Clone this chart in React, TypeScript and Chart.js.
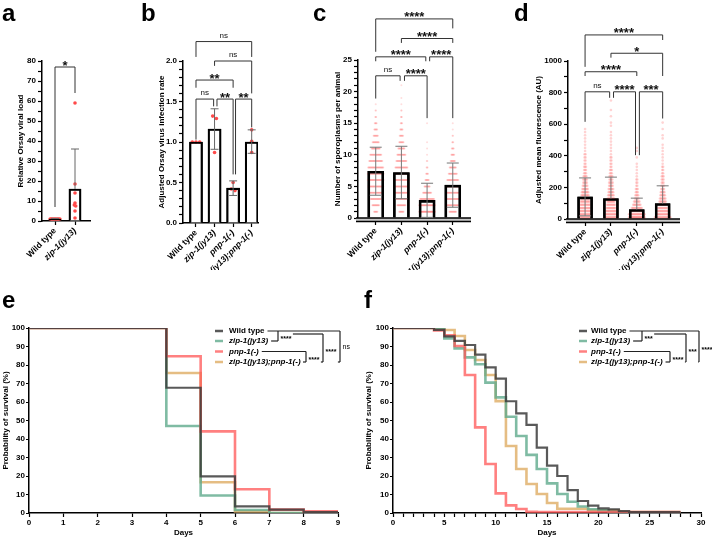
import React, { useEffect, useRef } from 'react';
import { Chart, registerables } from 'chart.js';
Chart.register(...registerables);

const FONT = '"Liberation Sans", Arial, Helvetica, sans-serif';

// ---------------- Panel a ----------------
const catsA = ['Wild type', 'zip-1(jy13)'];
const meanA = [1, 16];
const lowA = [1, 16];
const highA = [1.3, 36];
const dotsA = [
  [1, 1, 1, 1, 1, 1, 1, 1],
  [59, 18.5, 14, 9, 8, 7.5, 5, 1.5],
];

// ---------------- Panel b ----------------
const cats4 = ['Wild type', 'zip-1(jy13)', 'pnp-1(-)', 'zip-1(jy13);pnp-1(-)'];
const meanB = [1.0, 1.16, 0.43, 1.0];
const lowB = [1.0, 0.91, 0.34, 0.86];
const highB = [1.0, 1.41, 0.52, 1.15];
const dotsB = [
  [1, 1, 1],
  [1.32, 1.29, 0.87],
  [0.5, 0.42, 0.4],
  [1.15, 1.01, 0.87],
];

// ---------------- Panel c ----------------
// number of animals having 1, 2, 3 ... sporoplasms
const meanC = [7.4, 7.2, 2.8, 5.2];
const lowC = [3.6, 3.05, 0.1, 1.7];
const highC = [11.2, 11.35, 5.5, 8.7];
const countsC_wt = [8, 15, 22, 28, 32, 34, 34, 32, 28, 24, 18, 14, 10, 7, 5, 3, 2, 1];
const countsC_zip = [10, 18, 24, 28, 30, 30, 28, 26, 22, 18, 14, 10, 8, 6, 4, 3, 2, 1, 1, 0, 1];
const countsC_pnp = [45, 40, 30, 18, 12, 8, 5, 3, 2, 1, 1, 1, 0, 0, 1];
const countsC_dbl = [15, 25, 30, 30, 28, 24, 18, 14, 10, 7, 5, 3, 2, 1, 1];

// ---------------- Panel d ----------------
// number of animals per 20 AU fluorescence bin (0-20, 20-40, ...)
const meanD = [140, 130, 60, 98];
const lowD = [20, 130, 60, 98];
const highD = [260, 265, 132, 210];
const countsD_wt = [12, 14, 14, 13, 12, 11, 10, 9, 8, 7, 6, 5, 5, 4, 3, 3, 3, 2, 2, 2, 2, 1, 1, 1, 1, 1, 1, 1, 1];
const countsD_zip = [16, 14, 12, 11, 10, 9, 8, 7, 6, 6, 5, 5, 4, 4, 3, 3, 2, 2, 2, 2, 1, 1, 1, 1, 1, 1, 1, 1, 0, 1, 1, 0, 1, 0, 1, 0, 0, 1];
const countsD_pnp = [26, 20, 15, 12, 9, 7, 5, 4, 3, 3, 2, 2, 2, 1, 1, 1, 1, 1, 0, 1, 0, 1, 1];
const countsD_dbl = [18, 15, 13, 11, 9, 8, 7, 6, 5, 4, 4, 3, 3, 3, 2, 2, 2, 1, 1, 1, 1, 1, 1, 1, 0, 1, 1, 0, 1, 0, 1];

// ---------------- Panel e ----------------
const daysE = [0, 4, 5, 6, 7, 8, 9];
const survE_wt = [100, 67.7, 19.8, 3.6, 1.8, 0.5, 0.5];
const survE_zip = [100, 47, 9.5, 1.6, 0, 0, 0];
const survE_pnp = [100, 84.7, 44.1, 12.8, 1.8, 0.9, 0.9];
const survE_dbl = [100, 75.7, 16.6, 0.9, 0, 0, 0];

// ---------------- Panel f ----------------
const daysF = [0, 4, 5, 6, 7, 8, 9, 10, 11, 12, 13, 14, 15, 16, 17, 18, 19, 20, 21, 22, 23, 28];
const survF_wt = [100, 99, 95.5, 93, 90.8, 85.6, 78.7, 72.6, 60.4, 53.9, 47.6, 35.3, 25.6, 20, 12.4, 6.5, 4, 2.5, 2, 1, 0.5, 0.5];
const survF_zip = [100, 100, 94.4, 89, 84.1, 80.4, 70.5, 62.5, 52, 41.6, 31.4, 23.8, 16, 10.3, 6.1, 3.5, 2, 1.5, 0.5, 0, 0, 0];
const survF_pnp = [100, 98.7, 96, 90.3, 74.6, 46.3, 26.5, 10.6, 4.1, 2.2, 0.7, 0.5, 0.5, 0.5, 0.5, 0.5, 0.5, 0.5, 0.5, 0.5, 0.5, 0.5];
const survF_dbl = [100, 100, 98.9, 95.7, 88.1, 82.7, 74.6, 60.5, 36.2, 23.8, 15.7, 10.3, 5.4, 2.3, 2.3, 2.3, 1.5, 1.5, 1.5, 0.5, 0.5, 0.5];

const seriesNames = ['Wild type', 'zip-1(jy13)', 'pnp-1(-)', 'zip-1(jy13);pnp-1(-)'];
const seriesColors = ['rgba(60,60,60,0.85)', 'rgba(95,170,140,0.8)', 'rgba(255,85,85,0.75)', 'rgba(222,172,100,0.8)'];

// significance brackets: from/to in category units, top/left-end/right-end in y units
type Bracket = { from: number; to: number; top: number; l: number; r: number; label: string };
const bracketsA: Bracket[] = [{ from: 0, to: 1, top: 77, l: 7, r: 64, label: '*' }];
const bracketsB: Bracket[] = [
  { from: 0, to: 0.95, top: 1.53, l: 1.03, r: 1.44, label: 'ns' },
  { from: 1.13, to: 2, top: 1.53, l: 1.44, r: 0.6, label: '**' },
  { from: 2.13, to: 3, top: 1.53, l: 0.6, r: 1.18, label: '**' },
  { from: 0, to: 2, top: 1.765, l: 1.67, r: 1.67, label: '**' },
  { from: 1, to: 3, top: 2.0, l: 1.94, r: 1.6, label: 'ns' },
  { from: 0, to: 3, top: 2.24, l: 2.05, r: 2.05, label: 'ns' },
];
const bracketsC: Bracket[] = [
  { from: 0, to: 0.95, top: 22.5, l: 18.9, r: 21.7, label: 'ns' },
  { from: 1.12, to: 2, top: 22.5, l: 21.7, r: 15.8, label: '****' },
  { from: 0, to: 1.95, top: 25.5, l: 24.8, r: 24.8, label: '****' },
  { from: 2.1, to: 3, top: 25.5, l: 24.8, r: 15.8, label: '****' },
  { from: 1, to: 3, top: 28.4, l: 27.7, r: 27.7, label: '****' },
  { from: 0, to: 3, top: 31.5, l: 26.3, r: 30, label: '****' },
];
const bracketsD: Bracket[] = [
  { from: 0, to: 0.95, top: 805, l: 615, r: 767, label: 'ns' },
  { from: 1.1, to: 1.95, top: 805, l: 767, r: 404, label: '****' },
  { from: 2.1, to: 3, top: 805, l: 404, r: 636, label: '***' },
  { from: 0, to: 2, top: 932, l: 905, r: 905, label: '****' },
  { from: 1, to: 3, top: 1049, l: 1021, r: 905, label: '*' },
  { from: 0, to: 3, top: 1165, l: 963, r: 1133, label: '****' },
];

// ---------------- helpers ----------------
function expand(counts: number[], start: number, width: number): number[] {
  const out: number[] = [];
  counts.forEach((n, i) => {
    for (let k = 0; k < n; k++) out.push(start + i * width);
  });
  return out;
}

// horizontal spreading of points having (nearly) the same value
function swarm(groups: number[][], bin: number, step: number, maxW: number) {
  const out: { x: number; y: number }[] = [];
  groups.forEach((vals, gi) => {
    const buckets = new Map<number, number[]>();
    vals.forEach((v) => {
      const k = Math.round(v / bin);
      if (!buckets.has(k)) buckets.set(k, []);
      buckets.get(k)!.push(v);
    });
    buckets.forEach((list) => {
      const n = list.length;
      const w = Math.min((n - 1) * step, maxW);
      const s = n > 1 ? w / (n - 1) : 0;
      list.forEach((v, k) => out.push({ x: gi + (k - (n - 1) / 2) * s, y: v }));
    });
  });
  return out;
}

type BarPanel = {
  cats: string[];
  mean: number[];
  low: number[];
  high: number[];
  dots: { x: number; y: number }[];
  dotColor: string;
  dotRadius: number;
  yMax: number;
  yStep: number;
  yFmt: (v: number) => string;
  yTitle: string;
  xMin: number;
  xMax: number;
  barThickness: number;
  barBorder: number;
  brackets: Bracket[];
  band: boolean;
  cap: number;
  errColor: string;
  padLeft: number;
  padTop: number;
  padRight: number;
  yWidth: number;
  xHeight: number;
  xTickLen: number;
};

function annotPlugin(p: BarPanel) {
  return {
    id: 'annot',
    afterDatasetsDraw(chart: any) {
      const { ctx, chartArea: a, scales } = chart;
      const xs = scales.x;
      const ys = scales.y;
      const L = (x1: number, y1: number, x2: number, y2: number) => {
        ctx.beginPath();
        ctx.moveTo(x1, y1);
        ctx.lineTo(x2, y2);
        ctx.stroke();
      };
      ctx.save();
      if (p.band) {
        const y0 = a.bottom;
        ctx.fillStyle = '#c8c8c8';
        ctx.fillRect(a.left - 2, y0, a.right - a.left + 2, 3.5);
        ctx.strokeStyle = '#000';
        ctx.lineWidth = 1.4;
        L(a.left - 2, y0, a.right, y0);
        L(a.left - 2, y0 + 3.5, a.right, y0 + 3.5);
      }
      ctx.strokeStyle = p.errColor;
      ctx.lineWidth = 1;
      p.mean.forEach((m, i) => {
        const cx = xs.getPixelForValue(i);
        const ym = ys.getPixelForValue(m);
        if (p.high[i] > m) {
          const yh = ys.getPixelForValue(p.high[i]);
          L(cx, ym, cx, yh);
          L(cx - p.cap, yh, cx + p.cap, yh);
        }
        if (p.low[i] < m) {
          const yl = ys.getPixelForValue(p.low[i]);
          L(cx, ym, cx, yl);
          L(cx - p.cap, yl, cx + p.cap, yl);
        }
      });
      ctx.strokeStyle = '#333';
      ctx.lineWidth = 1;
      ctx.fillStyle = '#111';
      ctx.textAlign = 'center';
      ctx.textBaseline = 'alphabetic';
      p.brackets.forEach((b) => {
        const x1 = xs.getPixelForValue(b.from);
        const x2 = xs.getPixelForValue(b.to);
        const yt = ys.getPixelForValue(b.top);
        ctx.beginPath();
        ctx.moveTo(x1, ys.getPixelForValue(b.l));
        ctx.lineTo(x1, yt);
        ctx.lineTo(x2, yt);
        ctx.lineTo(x2, ys.getPixelForValue(b.r));
        ctx.stroke();
        if (b.label === 'ns') {
          ctx.font = `8px ${FONT}`;
          ctx.fillText(b.label, (x1 + x2) / 2, yt - 4);
        } else {
          ctx.font = `bold 13px ${FONT}`;
          ctx.fillText(b.label, (x1 + x2) / 2, yt + 2.5);
        }
      });
      ctx.restore();
    },
  };
}

function barConfig(p: BarPanel): any {
  const barData = p.mean.map((m, i) => ({ x: i, y: m }));
  return {
    type: 'bar',
    data: {
      datasets: [
        {
          type: 'bar',
          data: barData,
          backgroundColor: '#ffffff',
          borderColor: '#000000',
          borderWidth: p.barBorder,
          barThickness: p.barThickness,
          order: 3,
        },
        {
          type: 'scatter',
          data: p.dots,
          pointRadius: p.dotRadius,
          pointBackgroundColor: p.dotColor,
          pointBorderWidth: 0,
          order: 2,
        },
        {
          type: 'bar',
          data: barData,
          backgroundColor: 'rgba(0,0,0,0)',
          borderColor: '#000000',
          borderWidth: p.barBorder,
          barThickness: p.barThickness,
          order: 1,
        },
      ],
    },
    options: {
      responsive: false,
      animation: false,
      events: [],
      datasets: { bar: { grouped: false } },
      layout: { padding: { left: p.padLeft, top: p.padTop, right: p.padRight, bottom: 0 } },
      plugins: { legend: { display: false }, tooltip: { enabled: false } },
      scales: {
        x: {
          type: 'linear',
          min: p.xMin,
          max: p.xMax,
          offset: false,
          afterBuildTicks: (s: any) => {
            s.ticks = p.cats.map((_, i) => ({ value: i }));
          },
          afterFit: (s: any) => {
            s.height = p.xHeight;
          },
          grid: { drawOnChartArea: false, offset: false, tickLength: p.xTickLen, color: '#000', tickWidth: 1.2 },
          border: { display: !p.band, color: '#000', width: 1.5 },
          ticks: {
            autoSkip: false,
            minRotation: 45,
            maxRotation: 45,
            padding: 1,
            color: '#000',
            callback: (v: number) => p.cats[Math.round(v)] ?? '',
            font: (c: any) => ({ family: FONT, size: 8.5, weight: 'bold', style: c.index === 0 ? 'normal' : 'italic' }),
          },
        },
        y: {
          type: 'linear',
          min: 0,
          max: p.yMax,
          afterFit: (s: any) => {
            s.width = p.yWidth;
          },
          grid: { drawOnChartArea: false, tickLength: 4, color: '#000', tickWidth: 1.2 },
          border: { color: '#000', width: 1.5 },
          ticks: {
            stepSize: p.yStep,
            autoSkip: false,
            maxTicksLimit: 500,
            includeBounds: false,
            color: '#000',
            padding: 2,
            font: { family: FONT, size: 8, weight: 'bold' },
            callback: (v: number) => p.yFmt(v),
          },
          title: {
            display: true,
            text: p.yTitle,
            color: '#000',
            font: { family: FONT, size: 8, weight: 'bold' },
            padding: 0,
          },
        },
      },
    },
    plugins: [annotPlugin(p)],
  };
}

type KMPanel = {
  days: number[];
  series: number[][];
  xMax: number;
  labelEvery: number;
  padLeft: number;
  padTop: number;
  padRight: number;
  yWidth: number;
  xHeight: number;
  swatchX: number;
  textX: number;
  rows: number[];
  xA: number;
  xB: number;
  xC: number;
  xD: number;
  labels: string[];
};

function kmLegendPlugin(p: KMPanel) {
  return {
    id: 'kmLegend',
    afterDraw(chart: any) {
      const ctx = chart.ctx;
      const L = (x1: number, y1: number, x2: number, y2: number) => {
        ctx.beginPath();
        ctx.moveTo(x1, y1);
        ctx.lineTo(x2, y2);
        ctx.stroke();
      };
      ctx.save();
      const ends: number[] = [];
      seriesNames.forEach((name, i) => {
        const yy = p.rows[i];
        ctx.strokeStyle = seriesColors[i];
        ctx.lineWidth = 2.5;
        L(p.swatchX, yy, p.swatchX + 8, yy);
        ctx.font = `${i === 0 ? '' : 'italic '}bold 8px ${FONT}`;
        ctx.fillStyle = '#000';
        ctx.textBaseline = 'middle';
        ctx.textAlign = 'left';
        ctx.fillText(name, p.textX, yy);
        ends.push(p.textX + ctx.measureText(name).width + 3);
      });
      const [r1, r2, r3, r4] = p.rows;
      ctx.strokeStyle = '#222';
      ctx.lineWidth = 1.2;
      L(ends[0], r1, p.xD, r1);
      L(ends[1], r2, p.xA, r2);
      L(p.xA, r1, p.xA, r2);
      L(ends[2], r3, p.xB, r3);
      L(Math.min(ends[3], p.xB - 3), r4, p.xB, r4);
      L(p.xB, r3, p.xB, r4);
      ctx.textBaseline = 'alphabetic';
      const lab = (t: string, x: number, y: number) => {
        if (t === 'ns') {
          ctx.font = `7px ${FONT}`;
          ctx.fillText(t, x, y + 2);
        } else {
          ctx.font = `bold 7px ${FONT}`;
          ctx.fillText(t, x, y + 5);
        }
        return ctx.measureText(t).width;
      };
      const mA = (r1 + r2) / 2;
      const mB = (r3 + r4) / 2;
      const wA = lab(p.labels[0], p.xA + 2.5, mA);
      const wB = lab(p.labels[1], p.xB + 2.5, mB);
      const cTop = mA - 2;
      L(p.xA + 4 + wA, cTop, p.xC, cTop);
      L(p.xC, cTop, p.xC, r4);
      L(p.xB + 4 + wB, r4, p.xC, r4);
      const wC = lab(p.labels[2], p.xC + 2.5, (cTop + r4) / 2 + 1);
      L(p.xD, r1, p.xD, r4);
      L(p.xC + 4 + wC, r4, p.xD, r4);
      lab(p.labels[3], p.xD + 2.5, (r1 + r4) / 2);
      ctx.restore();
    },
  };
}

function kmConfig(p: KMPanel): any {
  const orders = [0, 2, 1, 3];
  return {
    type: 'line',
    data: {
      datasets: p.series.map((s, i) => ({
        data: p.days.map((d, k) => ({ x: d, y: s[k] })),
        borderColor: seriesColors[i],
        borderWidth: i === 0 ? 2.2 : 2.6,
        pointRadius: 0,
        stepped: true,
        fill: false,
        borderJoinStyle: 'miter',
        order: orders[i],
      })),
    },
    options: {
      responsive: false,
      animation: false,
      events: [],
      layout: { padding: { left: p.padLeft, top: p.padTop, right: p.padRight, bottom: 0 } },
      plugins: { legend: { display: false }, tooltip: { enabled: false } },
      scales: {
        x: {
          type: 'linear',
          min: 0,
          max: p.xMax,
          afterFit: (s: any) => {
            s.height = p.xHeight;
          },
          grid: { drawOnChartArea: false, tickLength: 4, color: '#000', tickWidth: 1.2 },
          border: { color: '#000', width: 1.5 },
          ticks: {
            stepSize: 1,
            autoSkip: false,
            maxRotation: 0,
            padding: 1,
            color: '#000',
            font: { family: FONT, size: 8, weight: 'bold' },
            callback: (v: number) => (v % p.labelEvery === 0 ? String(v) : ''),
          },
          title: { display: true, text: 'Days', color: '#000', font: { family: FONT, size: 8, weight: 'bold' }, padding: 0 },
        },
        y: {
          type: 'linear',
          min: 0,
          max: 100,
          afterFit: (s: any) => {
            s.width = p.yWidth;
          },
          grid: { drawOnChartArea: false, tickLength: 3, color: '#000', tickWidth: 1.2 },
          border: { color: '#000', width: 1.5 },
          ticks: { stepSize: 10, autoSkip: false, padding: 1, color: '#000', font: { family: FONT, size: 8, weight: 'bold' } },
          title: {
            display: true,
            text: 'Probability of survival (%)',
            color: '#000',
            font: { family: FONT, size: 8, weight: 'bold' },
            padding: 0,
          },
        },
      },
    },
    plugins: [kmLegendPlugin(p)],
  };
}

function ChartBox(props: { left: number; top: number; width: number; height: number; make: () => any }) {
  const ref = useRef<HTMLCanvasElement>(null);
  useEffect(() => {
    const chart = new Chart(ref.current as HTMLCanvasElement, props.make());
    return () => chart.destroy();
  }, []);
  return (
    <div style={{ position: 'absolute', left: props.left, top: props.top, width: props.width, height: props.height }}>
      <canvas ref={ref} width={props.width} height={props.height} style={{ display: 'block' }} />
    </div>
  );
}

const near = (v: number, m: number) => Math.abs(v / m - Math.round(v / m)) < 1e-6;

const panelA: BarPanel = {
  cats: catsA, mean: meanA, low: lowA, high: highA,
  dots: swarm(dotsA, 2, 0.07, 0.5), dotColor: '#ff4a4a', dotRadius: 1.8,
  yMax: 80, yStep: 5, yFmt: (v) => (near(v, 10) ? String(v) : ''), yTitle: 'Relative Orsay viral load',
  xMin: -0.65, xMax: 1.75, barThickness: 12, barBorder: 1.5, brackets: bracketsA, band: false,
  cap: 4, errColor: '#666', padLeft: 16, padTop: 61, padRight: 10, yWidth: 26, xHeight: 49, xTickLen: 4,
};
const panelB: BarPanel = {
  cats: cats4, mean: meanB, low: lowB, high: highB,
  dots: swarm(dotsB, 0.05, 0.2, 0.5), dotColor: '#ff4a4a', dotRadius: 1.8,
  yMax: 2, yStep: 0.1, yFmt: (v) => (near(v, 0.5) ? v.toFixed(1) : ''), yTitle: 'Adjusted Orsay virus infection rate',
  xMin: -0.7, xMax: 3.34, barThickness: 13, barBorder: 1.5, brackets: bracketsB, band: false,
  cap: 4, errColor: '#666', padLeft: 27, padTop: 61, padRight: 12, yWidth: 26, xHeight: 47, xTickLen: 4,
};
const panelC: BarPanel = {
  cats: cats4, mean: meanC, low: lowC, high: highC,
  dots: swarm([expand(countsC_wt, 1, 1), expand(countsC_zip, 1, 1), expand(countsC_pnp, 1, 1), expand(countsC_dbl, 1, 1)], 1, 0.019, 0.62),
  dotColor: 'rgba(255,90,90,0.2)', dotRadius: 1,
  yMax: 25, yStep: 1, yFmt: (v) => (near(v, 5) ? String(v) : ''), yTitle: 'Number of sporoplasms per animal',
  xMin: -0.69, xMax: 3.71, barThickness: 16, barBorder: 2, brackets: bracketsC, band: true,
  cap: 6, errColor: '#777', padLeft: 23, padTop: 60, padRight: 19, yWidth: 25, xHeight: 52, xTickLen: 7,
};
const panelD: BarPanel = {
  cats: cats4, mean: meanD, low: lowD, high: highD,
  dots: swarm([expand(countsD_wt, 10, 20), expand(countsD_zip, 10, 20), expand(countsD_pnp, 10, 20), expand(countsD_dbl, 10, 20)], 20, 0.035, 0.6),
  dotColor: 'rgba(255,110,110,0.3)', dotRadius: 1.3,
  yMax: 1000, yStep: 100, yFmt: (v) => (near(v, 200) ? String(v) : ''), yTitle: 'Adjusted mean fluorescence (AU)',
  xMin: -0.66, xMax: 3.67, barThickness: 15, barBorder: 2, brackets: bracketsD, band: true,
  cap: 6, errColor: '#777', padLeft: 34, padTop: 61, padRight: 32, yWidth: 34, xHeight: 51, xTickLen: 7,
};

const panelE: KMPanel = {
  days: daysE, series: [survE_wt, survE_zip, survE_pnp, survE_dbl], xMax: 9, labelEvery: 1,
  padLeft: 1, padTop: 48, padRight: 17, yWidth: 28, xHeight: 25,
  swatchX: 215, textX: 229, rows: [51, 61, 71.5, 82], xA: 278, xB: 306, xC: 323, xD: 340,
  labels: ['****', '****', '****', 'ns'],
};
const panelF: KMPanel = {
  days: daysF, series: [survF_wt, survF_zip, survF_pnp, survF_dbl], xMax: 30, labelEvery: 5,
  padLeft: 9, padTop: 48, padRight: 11, yWidth: 29, xHeight: 25,
  swatchX: 224, textX: 236, rows: [51, 61, 71.5, 82], xA: 287, xB: 315, xC: 331, xD: 344,
  labels: ['***', '****', '***', '****'],
};

const letter = (t: string, left: number, top: number) => (
  <div key={t} style={{ position: 'absolute', left, top, font: `bold 24px ${FONT}`, lineHeight: '24px', color: '#000' }}>{t}</div>
);

export default function App() {
  return (
    <div style={{ position: 'fixed', left: 0, top: 0, width: 712, height: 538, background: '#fff', overflow: 'hidden' }}>
      <ChartBox left={0} top={0} width={100} height={270} make={() => barConfig(panelA)} />
      <ChartBox left={130} top={0} width={140} height={270} make={() => barConfig(panelB)} />
      <ChartBox left={310} top={0} width={180} height={270} make={() => barConfig(panelC)} />
      <ChartBox left={500} top={0} width={212} height={270} make={() => barConfig(panelD)} />
      <ChartBox left={0} top={280} width={355} height={258} make={() => kmConfig(panelE)} />
      <ChartBox left={355} top={280} width={357} height={258} make={() => kmConfig(panelF)} />
      {letter('a', 2, 1)}
      {letter('b', 141, 1)}
      {letter('c', 313, 1)}
      {letter('d', 514, 1)}
      {letter('e', 2, 288)}
      {letter('f', 364, 288)}
    </div>
  );
}
